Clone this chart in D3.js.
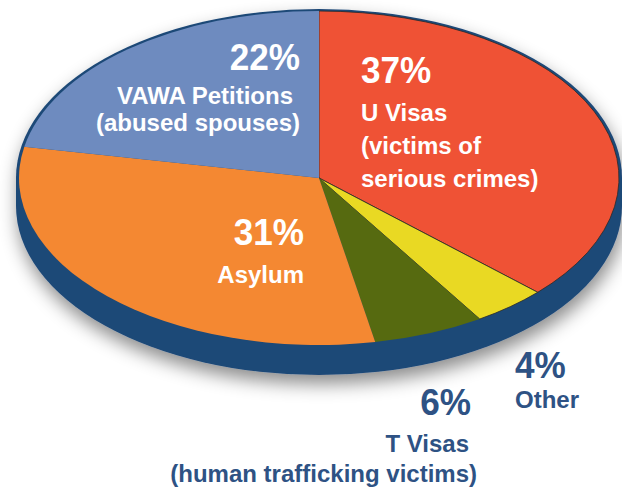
<!DOCTYPE html>
<html>
<head>
<meta charset="utf-8">
<script src="https://cdn.jsdelivr.net/npm/d3@7"></script>
<style>
  html, body { margin: 0; padding: 0; background: #fff; }
  #chart { width: 622px; height: 490px; }
</style>
</head>
<body>
<div id="chart"></div>
<script>
// categories, in clockwise order from 12 o'clock
const categories = ["U Visas", "Other", "T Visas", "Asylum", "VAWA Petitions"];
const values = [37, 4, 6, 31, 22];
const subLabels = [
    ["(victims of", "serious crimes)"],
    [],
    ["(human trafficking victims)"],
    [],
    ["(abused spouses)"]
];

const width = 622, height = 490;
const cx = 319, cy = 178, rx = 300, ry = 167, depth = 28;

const color = d3.scaleOrdinal()
    .domain(categories)
    .range(["#ef5235", "#e9d923", "#566a10", "#f48832", "#6e8bbf"]);

const svg = d3.select("#chart")
    .append("svg")
    .attr("width", width)
    .attr("height", height)
    .attr("viewBox", `0 0 ${width} ${height}`);

// soft shadow under the base
const defs = svg.append("defs");
const f = defs.append("filter")
    .attr("id", "shadow")
    .attr("x", "-10%").attr("y", "-10%")
    .attr("width", "120%").attr("height", "140%");
f.append("feDropShadow")
    .attr("dx", 2).attr("dy", 9)
    .attr("stdDeviation", 9)
    .attr("flood-color", "#000")
    .attr("flood-opacity", 0.45);

// base (side of the disc)
const brx = rx + 3, bry = ry + 2;
svg.append("path")
    .attr("d", `M${cx - brx},${cy} L${cx - brx},${cy + depth} A${brx},${bry} 0 0 0 ${cx + brx},${cy + depth} L${cx + brx},${cy} A${brx},${bry} 0 0 0 ${cx - brx},${cy} Z`)
    .attr("fill", "#1f4877")
    .attr("filter", "url(#shadow)");

// top face
const pie = d3.pie().sort(null).value(d => d.value);
const data = categories.map((c, i) => ({ name: c, value: values[i] }));
const arcs = pie(data);
const arc = d3.arc().innerRadius(0).outerRadius(rx);

const face = svg.append("g")
    .attr("transform", `translate(${cx},${cy}) scale(1,${ry / rx})`);

face.selectAll("path")
    .data(arcs)
    .enter()
    .append("path")
    .attr("d", arc)
    .attr("fill", d => color(d.data.name))
    .attr("stroke", d => (d.data.name === "U Visas" || d.data.name === "Other") ? "#2a2a2a" : "none")
    .attr("stroke-width", 0.8)
    .attr("vector-effect", "non-scaling-stroke");

// labels
const font = "'Liberation Sans', Arial, sans-serif";
const labelPos = {
    "VAWA Petitions": { x: 300, y: 70, anchor: "end", fill: "#fff", lines: [104, 131], sub: [293, 300] },
    "U Visas": { x: 361, y: 83, anchor: "start", fill: "#fff", lines: [121, 154, 187] },
    "Asylum": { x: 304, y: 245, anchor: "end", fill: "#fff", lines: [283] },
    "Other": { x: 515, y: 378, anchor: "start", fill: "#2e5284", lines: [408] },
    "T Visas": { x: 471, y: 415, anchor: "end", fill: "#2e5284", lines: [452, 482], sub: [469, 477] }
};

const labels = svg.append("g").style("font-family", font);
categories.forEach((c, i) => {
    const p = labelPos[c];
    labels.append("text")
        .attr("transform", `translate(${p.x},${p.y}) scale(0.95,1)`)
        .attr("text-anchor", p.anchor)
        .attr("fill", p.fill)
        .style("font-size", "37px")
        .style("font-weight", "bold")
        .text(values[i] + "%");
    const lines = [c].concat(subLabels[i]);
    lines.forEach((t, j) => {
        labels.append("text")
            .attr("x", p.sub ? p.sub[j] : p.x)
            .attr("y", p.lines[j])
            .attr("text-anchor", p.anchor)
            .attr("fill", p.fill)
            .style("font-size", "24px")
            .style("font-weight", "bold")
            .text(t);
    });
});
</script>
</body>
</html>
